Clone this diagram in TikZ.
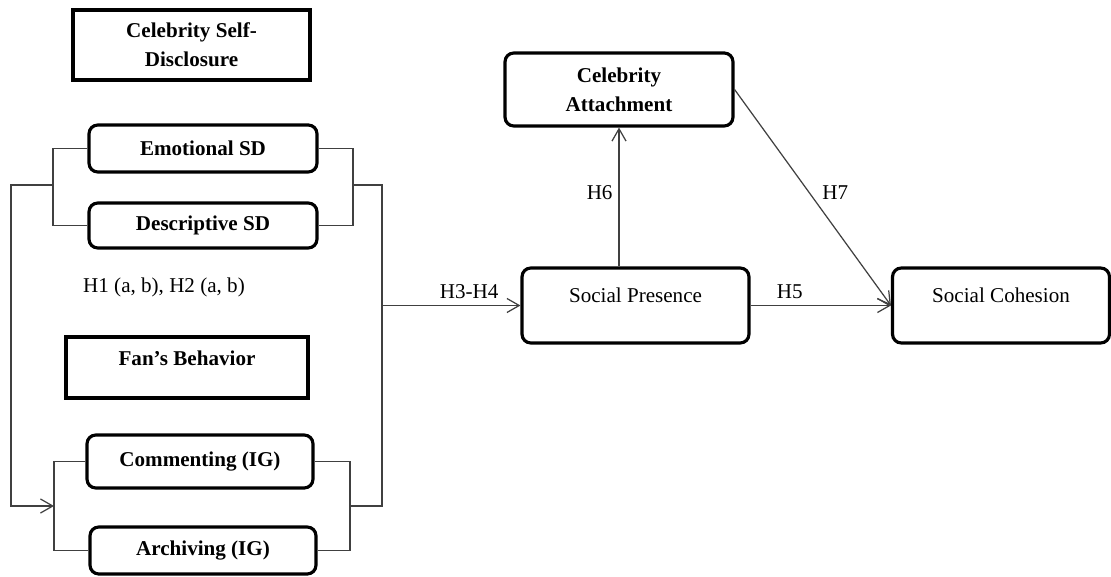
\documentclass[tikz,border=0pt]{standalone}
\usepackage{fontspec}
\setmainfont{Liberation Serif}
\usetikzlibrary{arrows.meta,positioning}

\begin{document}
\begin{tikzpicture}[
x=0.02cm,y=-0.02cm,
font=\fontsize{12}{16.5}\selectfont,
box/.style={rectangle,draw,line width=1.8pt,align=center,font=\bfseries\fontsize{12}{16.5}\selectfont},
rbox/.style={box,rounded corners=5pt},
plain/.style={font=\fontsize{12}{16.5}\selectfont},
link/.style={draw=black!75,line width=0.7pt},
arr/.style={link,-{Straight Barb[length=7pt,width=8pt]}}
]
\useasboundingbox (0,0) rectangle (1111,577);

% left block
\node[box,minimum width=4.74cm,minimum height=1.4cm] (csd) at (191.5,45) {Celebrity Self-\\Disclosure};
\node[rbox,minimum width=4.56cm,minimum height=0.94cm] (emo) at (203,148.5) {Emotional SD};
\node[rbox,minimum width=4.56cm,minimum height=0.9cm] (desc) at (203,225.5) {Descriptive SD};
\node (hyp) at (164,287) {H1 (a, b), H2 (a, b)};
\node[box,minimum width=4.84cm,text height=0.56cm,text depth=0.66cm,inner ysep=0pt] (fans) at (187,367.5) {Fan’s Behavior};
\node[rbox,minimum width=4.52cm,minimum height=1.06cm] (com) at (200,461.5) {Commenting (IG)};
\node[rbox,minimum width=4.52cm,minimum height=0.94cm] (arc) at (203,550.5) {Archiving (IG)};

% right block
\node[rbox,minimum width=4.56cm,minimum height=1.46cm] (att) at (619,89.5) {Celebrity\\Attachment};
\node[rbox,plain,minimum width=4.54cm,text height=0.68cm,text depth=0.82cm,inner ysep=0pt] (pres) at (635.5,305.5) {Social Presence};
\node[rbox,plain,minimum width=4.34cm,text height=0.68cm,text depth=0.82cm,inner ysep=0pt] (coh) at (1001,305.5) {Social Cohesion};

% bracket points
\coordinate (lb1) at (53,185);
\coordinate (rb1) at (353,185);
\coordinate (lb2) at (54,506);
\coordinate (rb2) at (350,506);
\coordinate (lout) at (11,506);
\coordinate (rout) at (382,506);
\coordinate (join) at (382,305.5);

\draw[link] (emo.west) -| (lb1) |- (desc.west);
\draw[link] (emo.east) -| (rb1) |- (desc.east);
\draw[link] (com.west) -| (lb2) |- (arc.west);
\draw[link] (com.east) -| (rb2) |- (arc.east);
\draw[arr] (lb1) -| (lout) -- (lb2);
\draw[link] (rb1) -| (rout) -- (rb2);

\draw[arr] (join) -- node[above,pos=0.63] {H3-H4} (pres.west);
\draw[arr] (pres.north -| att.south) -- node[left,pos=0.53] {H6} (att.south);
\draw[arr] (pres.east) -- node[above,pos=0.28] {H5} (coh.west);
\draw[arr] (att.east) -- node[right,pos=0.475,xshift=4pt] {H7} (coh.west);
\end{tikzpicture}
\end{document}
